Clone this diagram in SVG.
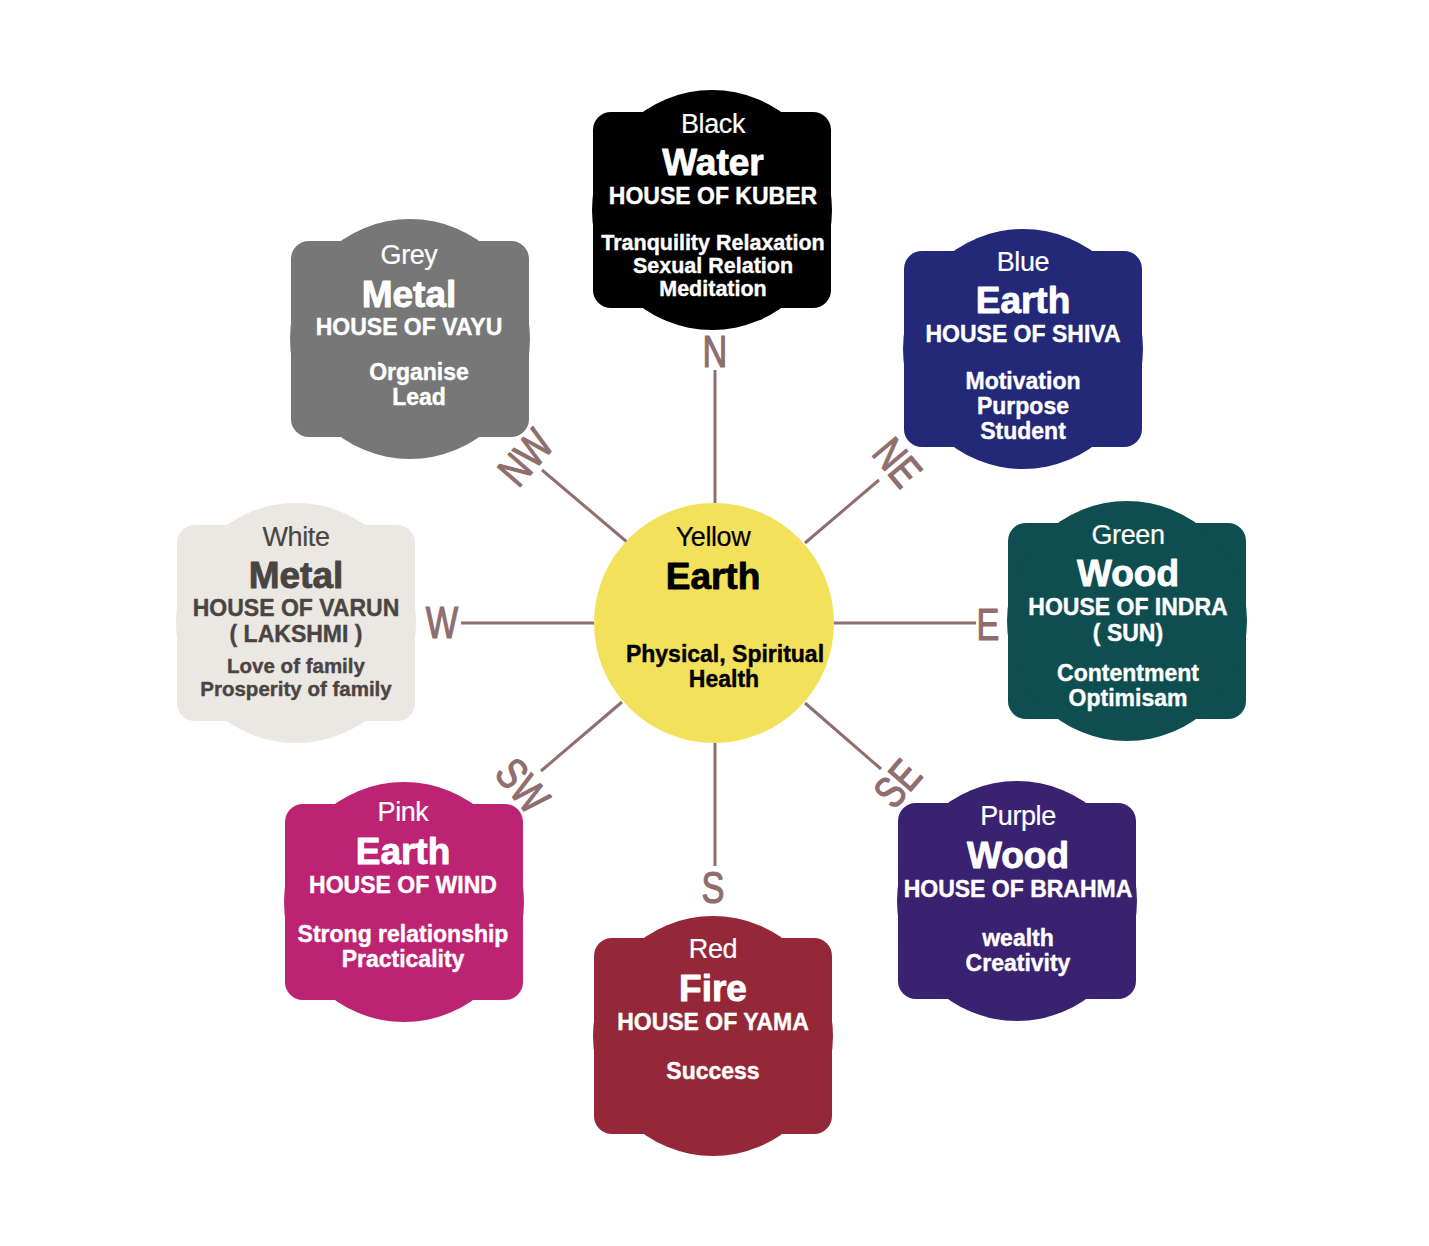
<svg xmlns="http://www.w3.org/2000/svg" xmlns:xlink="http://www.w3.org/1999/xlink" width="1429" height="1246" viewBox="0 0 1429 1246">
<style>
text{font-family:"Liberation Sans",Arial,sans-serif;text-anchor:middle;fill:#ffffff;stroke:#ffffff;stroke-width:0.4;stroke-linejoin:round}
.cn{font-size:27px;font-weight:normal;stroke-width:0.2;letter-spacing:-0.4px}
.el{font-size:37px;font-weight:bold;stroke-width:0.9}
.ho{font-size:23px;font-weight:bold}
.bd{font-size:23px;font-weight:bold}
.bk{font-size:21.5px;font-weight:bold}
.wb{font-size:20.5px;font-weight:bold}
.dk text{fill:#4a4543;stroke:#4a4543}
.yl text{fill:#000000;stroke:#000000}
.dir{font-size:44px;font-weight:normal;fill:#8f6e6e;stroke:#8f6e6e;stroke-width:1.2}
.ln{stroke:#8f6e6e;stroke-width:3;fill:none}
</style>
<defs>
<g id="shape">
<rect x="-119" y="-98" width="238" height="196" rx="18" ry="18"/>
<circle cx="0" cy="0" r="120"/>
</g>
</defs>
<rect width="1429" height="1246" fill="#ffffff"/>
<g id="connectors">
<line class="ln" x1="715" y1="370" x2="715" y2="503"/>
<line class="ln" x1="715" y1="743" x2="715" y2="866"/>
<line class="ln" x1="461" y1="623" x2="594" y2="623"/>
<line class="ln" x1="834" y1="623" x2="976" y2="623"/>
<line class="ln" x1="542" y1="470" x2="627" y2="542"/>
<line class="ln" x1="805" y1="543" x2="879" y2="480"/>
<line class="ln" x1="622" y1="702" x2="541" y2="771"/>
<line class="ln" x1="805" y1="703" x2="881" y2="769"/>
<text class="dir" transform="translate(715,367) scale(0.78,1)" x="0" y="0">N</text>
<text class="dir" transform="translate(713,903) scale(0.78,1)" x="0" y="0">S</text>
<text class="dir" transform="translate(442,638) scale(0.78,1)" x="0" y="0">W</text>
<text class="dir" transform="translate(988,640) scale(0.78,1)" x="0" y="0">E</text>
<text class="dir" transform="translate(525,457) rotate(-49) scale(0.78,1)" x="0" y="16">NW</text>
<text class="dir" transform="translate(898,462) rotate(50) scale(0.78,1)" x="0" y="16">NE</text>
<text class="dir" transform="translate(523,785) rotate(50) scale(0.78,1)" x="0" y="16">SW</text>
<text class="dir" transform="translate(897,783) rotate(-49) scale(0.78,1)" x="0" y="16">SE</text>
</g>
<g id="center" class="yl">
<circle cx="714" cy="623" r="120" fill="#f4e15b"/>
<text class="cn" x="713" y="546">Yellow</text>
<text class="el" x="713" y="589">Earth</text>
<text class="bd" x="725" y="662">Physical, Spiritual</text>
<text class="bd" x="724" y="687">Health</text>
</g>
<g id="north">
<use xlink:href="#shape" href="#shape" x="712" y="210" fill="#000000"/>
<text class="cn" x="713" y="133">Black</text>
<text class="el" x="713" y="175">Water</text>
<text class="ho" x="713" y="204">HOUSE OF KUBER</text>
<text class="bk" x="713" y="250">Tranquility Relaxation</text>
<text class="bk" x="713" y="273">Sexual Relation</text>
<text class="bk" x="713" y="296">Meditation</text>
</g>
<g id="northwest">
<use xlink:href="#shape" href="#shape" x="410" y="339" fill="#777777"/>
<text class="cn" x="409" y="264">Grey</text>
<text class="el" x="409" y="307">Metal</text>
<text class="ho" x="409" y="335">HOUSE OF VAYU</text>
<text class="bd" x="419" y="380">Organise</text>
<text class="bd" x="419" y="405">Lead</text>
</g>
<g id="northeast">
<use xlink:href="#shape" href="#shape" x="1023" y="349" fill="#232878"/>
<text class="cn" x="1023" y="271">Blue</text>
<text class="el" x="1023" y="313">Earth</text>
<text class="ho" x="1023" y="342">HOUSE OF SHIVA</text>
<text class="bd" x="1023" y="389">Motivation</text>
<text class="bd" x="1023" y="414">Purpose</text>
<text class="bd" x="1023" y="439">Student</text>
</g>
<g id="west" class="dk">
<use xlink:href="#shape" href="#shape" x="296" y="623" fill="#ebe7e2"/>
<text class="cn" x="296" y="546">White</text>
<text class="el" x="296" y="588">Metal</text>
<text class="ho" x="296" y="616">HOUSE OF VARUN</text>
<text class="ho" x="296" y="642">( LAKSHMI )</text>
<text class="wb" x="296" y="673">Love of family</text>
<text class="wb" x="296" y="696">Prosperity of family</text>
</g>
<g id="east">
<use xlink:href="#shape" href="#shape" x="1127" y="621" fill="#0f4e50"/>
<text class="cn" x="1128" y="544">Green</text>
<text class="el" x="1128" y="586">Wood</text>
<text class="ho" x="1128" y="615">HOUSE OF INDRA</text>
<text class="ho" x="1128" y="641">( SUN)</text>
<text class="bd" x="1128" y="681">Contentment</text>
<text class="bd" x="1128" y="706">Optimisam</text>
</g>
<g id="southwest">
<use xlink:href="#shape" href="#shape" x="404" y="902" fill="#bd2373"/>
<text class="cn" x="403" y="821">Pink</text>
<text class="el" x="403" y="864">Earth</text>
<text class="ho" x="403" y="893">HOUSE OF WIND</text>
<text class="bd" x="403" y="942">Strong relationship</text>
<text class="bd" x="403" y="967">Practicality</text>
</g>
<g id="southeast">
<use xlink:href="#shape" href="#shape" x="1017" y="901" fill="#3a2270"/>
<text class="cn" x="1018" y="825">Purple</text>
<text class="el" x="1018" y="868">Wood</text>
<text class="ho" x="1018" y="897">HOUSE OF BRAHMA</text>
<text class="bd" x="1018" y="946">wealth</text>
<text class="bd" x="1018" y="971">Creativity</text>
</g>
<g id="south">
<use xlink:href="#shape" href="#shape" x="713" y="1036" fill="#952838"/>
<text class="cn" x="713" y="958">Red</text>
<text class="el" x="713" y="1001">Fire</text>
<text class="ho" x="713" y="1030">HOUSE OF YAMA</text>
<text class="bd" x="713" y="1079">Success</text>
</g>
</svg>
